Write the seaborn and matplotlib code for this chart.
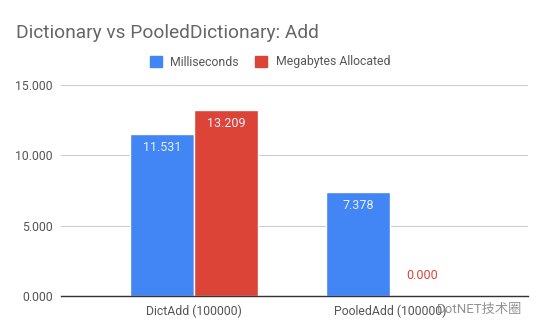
import matplotlib
matplotlib.use("Agg")
import matplotlib.pyplot as plt
import seaborn as sns
import pandas as pd

categories = ["DictAdd (100000)", "PooledAdd (100000)"]
series_names = ["Milliseconds", "Megabytes Allocated"]
milliseconds = [11.531, 7.378]
megabytes = [13.209, 0.000]
y_ticks = [0, 5, 10, 15]

colors = ["#4285F4", "#DB4437"]

df = pd.DataFrame({
    "category": categories * 2,
    "series": [series_names[0]] * 2 + [series_names[1]] * 2,
    "value": milliseconds + megabytes,
})

sns.set_theme(style="white")
plt.rcParams["font.family"] = ["Roboto", "Noto Sans CJK SC", "DejaVu Sans"]

fig = plt.figure(figsize=(5.4, 3.34), dpi=100)
ax = fig.add_axes([61 / 540, 1 - 296 / 334, 467 / 540, (296 - 74) / 334])

sns.barplot(data=df, x="category", y="value", hue="series", palette=colors,
            width=0.655, gap=0, ax=ax, legend=False, saturation=1)

ax.set_xlim(-0.679, -0.679 + 467 / 196)
ax.set_ylim(0, 15 * (296 - 74) / (296 - 85))
ax.set_yticks(y_ticks)
ax.set_yticklabels([f"{t:.3f}" for t in y_ticks])
ax.set_xlabel("")
ax.set_ylabel("")
ax.grid(axis="y", color="#cccccc", linewidth=0.8)
ax.set_axisbelow(True)
for s in ["top", "right", "left"]:
    ax.spines[s].set_visible(False)
ax.spines["bottom"].set_color("#333333")
ax.spines["bottom"].set_linewidth(1.0)
ax.tick_params(axis="both", length=0, labelsize=8.8, colors="#555555", pad=6)

# value labels
for container, color in zip(ax.containers, colors):
    for bar in container:
        h = bar.get_height()
        cx = bar.get_x() + bar.get_width() / 2
        if h > 1:
            ax.annotate(f"{h:.3f}", (cx, h), xytext=(0, -5), textcoords="offset points",
                        ha="center", va="top", fontsize=9, color="#e8f0ff")
        else:
            ax.annotate(f"{h:.3f}", (cx, h), xytext=(0, 10), textcoords="offset points",
                        ha="center", va="bottom", fontsize=9, color=color)

fig.text(16 / 540, 1 - 33 / 334, "Dictionary vs PooledDictionary: Add",
         fontsize=13.8, color="#666666", ha="left", va="center")

# legend
handles = [plt.Rectangle((0, 0), 1, 1, color=c) for c in colors]
fig.legend(handles, series_names, loc="center", bbox_to_anchor=(0.5, 1 - 62 / 334),
           ncol=2, frameon=False, fontsize=8.8, labelcolor="#555555",
           handlelength=1.0, handleheight=1.0, columnspacing=1.3, handletextpad=0.7)

# watermark
fig.text(522 / 540, 1 - 309 / 334, "DotNET技术圈", fontsize=9.5, color="#777777",
         ha="right", va="center", alpha=0.8)

fig.savefig("out.png", dpi=100)
